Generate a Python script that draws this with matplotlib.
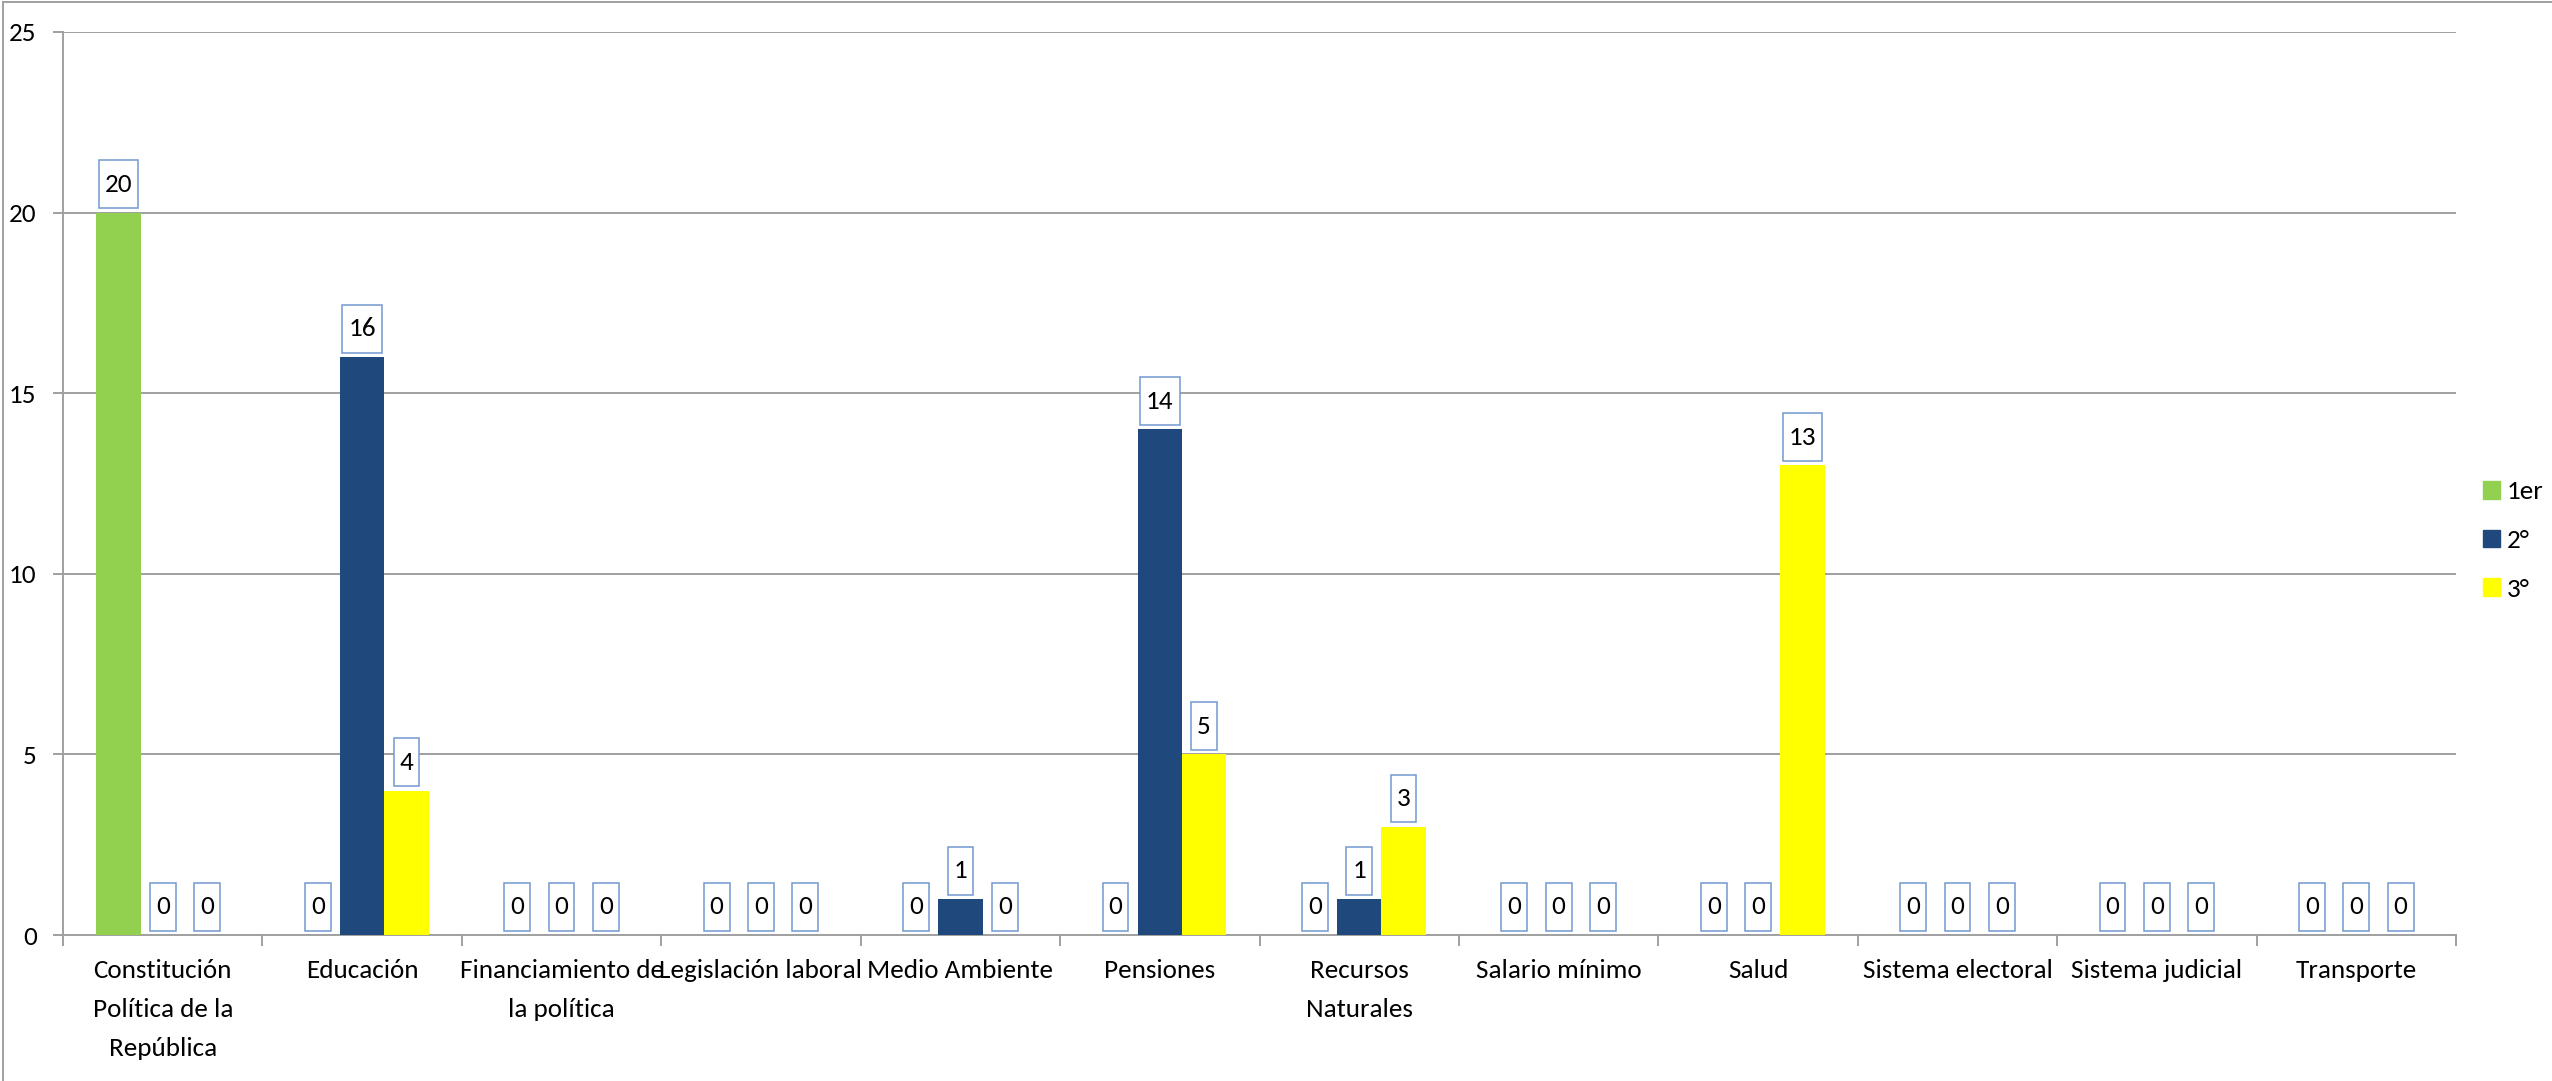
import numpy as np
import matplotlib.pyplot as plt
from matplotlib.lines import Line2D
from matplotlib.patches import Patch
from matplotlib.path import Path

plt.rcParams['font.family'] = ['Carlito', 'Lato', 'DejaVu Sans']

categorias = ['Constitución\nPolítica de la\nRepública', 'Educación', 'Financiamiento de\nla política',
              'Legislación laboral', 'Medio Ambiente', 'Pensiones', 'Recursos\nNaturales',
              'Salario mínimo', 'Salud', 'Sistema electoral', 'Sistema judicial', 'Transporte']
series = ['1er', '2°', '3°']
primero = [20, 0, 0, 0, 0, 0, 0, 0, 0, 0, 0, 0]
segundo = [0, 16, 0, 0, 1, 14, 1, 0, 0, 0, 0, 0]
tercero = [0, 4, 0, 0, 0, 5, 3, 0, 13, 0, 0, 0]
colores = ['#92D050', '#1F497D', '#FFFF00']


def caja(x0, y0, width, height, mutation_size):
    # label box: more padding top/bottom than left/right, like the Excel labels
    px = 0.22 * mutation_size
    py = 0.46 * mutation_size
    x1, y1 = x0 - px, y0 - py
    x2, y2 = x0 + width + px, y0 + height + py
    return Path([(x1, y1), (x2, y1), (x2, y2), (x1, y2), (x1, y1)], closed=True)


fig = plt.figure(figsize=(25.52, 10.81), dpi=100)
ax = fig.add_axes([0.0247, 0.135, 0.9377, 0.8354])

x = np.arange(len(categorias))
w = 1 / 4.5
grid_c = '#A0A0A0'
fs = 19.5
for i, (vals, col) in enumerate(zip([primero, segundo, tercero], colores)):
    pos = x + (i - 1) * w
    ax.bar(pos, vals, width=w, color=col, zorder=3)
    for xp, v in zip(pos, vals):
        ax.annotate(str(v), (xp, v), xytext=(0, 12), textcoords='offset points',
                    ha='center', va='bottom', fontsize=fs, zorder=5,
                    bbox=dict(boxstyle=caja, fc='white', ec='#7399D1', lw=1.1))

ax.set_xlim(-0.5, len(categorias) - 0.5)
ax.set_ylim(0, 25)
ax.set_yticks([0, 5, 10, 15, 20, 25])
ax.yaxis.grid(True, color=grid_c, lw=1.4, zorder=0)
ax.tick_params(axis='y', length=7, width=1.4, color=grid_c, labelsize=fs, pad=12)

ax.set_xticks(x)
ax.set_xticklabels(categorias, fontsize=fs, linespacing=1.85, va='top')
ax.tick_params(axis='x', which='major', length=0, pad=17)
ax.set_xticks(np.arange(len(categorias) + 1) - 0.5, minor=True)
ax.tick_params(axis='x', which='minor', length=8, width=1.4, color=grid_c)

for s in ['top', 'right']:
    ax.spines[s].set_visible(False)
for s in ['left', 'bottom']:
    ax.spines[s].set_color(grid_c)
    ax.spines[s].set_linewidth(1.4)

handles = [Patch(color=c, label=s) for c, s in zip(colores, series)]
fig.legend(handles=handles, loc='center left', bbox_to_anchor=(0.973, 0.5), frameon=False,
           borderaxespad=0, borderpad=0, fontsize=fs, handlelength=0.62, handleheight=0.62,
           handletextpad=0.25, labelspacing=0.95)

fig.add_artist(Line2D([0.001, 0.001], [0, 0.998], transform=fig.transFigure, color='#A0A0A0', lw=1.4))
fig.add_artist(Line2D([0.001, 1], [0.998, 0.998], transform=fig.transFigure, color='#A0A0A0', lw=1.4))

fig.savefig('out.png', dpi=100)
